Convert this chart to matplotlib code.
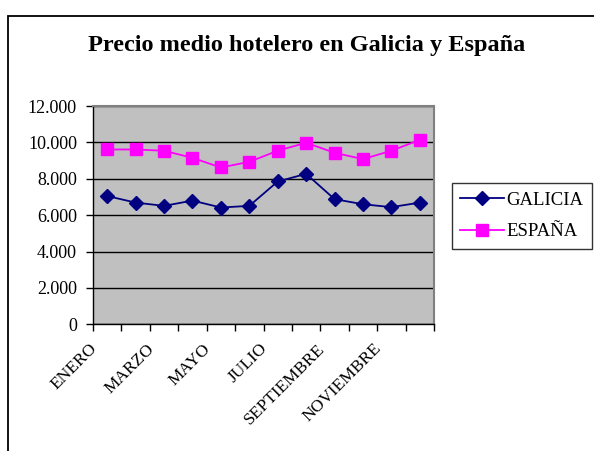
import matplotlib
matplotlib.use("Agg")
import matplotlib.pyplot as plt
from matplotlib.patches import Rectangle
from matplotlib.ticker import FuncFormatter, MultipleLocator
from matplotlib.transforms import offset_copy

meses = ["ENERO", "FEBRERO", "MARZO", "ABRIL", "MAYO", "JUNIO",
         "JULIO", "AGOSTO", "SEPTIEMBRE", "OCTUBRE", "NOVIEMBRE", "DICIEMBRE"]
galicia = [7050, 6690, 6510, 6800, 6420, 6510, 7850, 8270, 6880, 6600, 6440, 6690]
espana = [9610, 9610, 9540, 9150, 8620, 8930, 9540, 9980, 9430, 9080, 9540, 10140]

plt.rcParams['font.family'] = ['Liberation Serif', 'DejaVu Serif']

fig = plt.figure(figsize=(5.94, 4.51), dpi=100)
ax = fig.add_axes([93 / 594, 1 - 324.3 / 451, 341 / 594, 218.3 / 451])

# marco del grafico (solo se ven los bordes superior e izquierdo)
fig.add_artist(Rectangle((8 / 594, -0.2), 1.2, 1.2 - 16 / 451, transform=fig.transFigure,
                         fill=False, edgecolor='black', linewidth=1.3, clip_on=False))

x = list(range(len(meses)))
ax.plot(x, galicia, color='#000080', marker='D', markersize=7, linewidth=1.3, label='GALICIA')
ax.plot(x, espana, color='#FF00FF', marker='s', markersize=9, linewidth=1.3, label='ESPAÑA')

ax.set_facecolor('#C0C0C0')
ax.set_xlim(-0.5, len(meses) - 0.5)
ax.set_ylim(0, 12000)
ax.yaxis.set_major_locator(MultipleLocator(2000))
ax.yaxis.set_major_formatter(FuncFormatter(lambda v, p: f"{int(v):,}".replace(",", ".")))
ax.grid(axis='y', color='black', linewidth=1)
ax.set_axisbelow(True)

# ticks entre categorias, etiquetas cada dos meses
ax.set_xticks([i - 0.5 for i in range(len(meses) + 1)])
ax.set_xticklabels([])
ax.set_xticks(x[::2], minor=True)
ax.set_xticklabels(meses[::2], minor=True, rotation=45, ha='right',
                   rotation_mode='anchor', fontsize=12.5)
ax.tick_params(axis='x', which='minor', length=0, pad=6)
ax.tick_params(axis='x', which='major', length=5, width=1, direction='out')
ax.tick_params(axis='y', length=5, width=1, labelsize=13, pad=6.5)

fig.canvas.draw()
for lab in ax.get_xticklabels(minor=True):
    lab.set_transform(offset_copy(lab.get_transform(), fig=fig, x=-18, y=-8, units='dots'))

for s in ['top', 'right']:
    ax.spines[s].set_color('#808080')
    ax.spines[s].set_linewidth(1.5)
for s in ['left', 'bottom']:
    ax.spines[s].set_color('black')
    ax.spines[s].set_linewidth(1)

fig.text(307 / 594, 1 - 46 / 451, "Precio medio hotelero en Galicia y España",
         ha='center', va='center', fontsize=17.5, fontweight='bold')

leg = fig.legend(loc='center left', bbox_to_anchor=(452 / 594, 1 - 216 / 451),
                 fontsize=13.5, frameon=True, fancybox=False, handlelength=2.3,
                 handletextpad=0.15, borderpad=0.45, labelspacing=0.75, borderaxespad=0)
leg.get_frame().set_edgecolor('black')
leg.get_frame().set_linewidth(1)

fig.savefig("out.png", dpi=100)
